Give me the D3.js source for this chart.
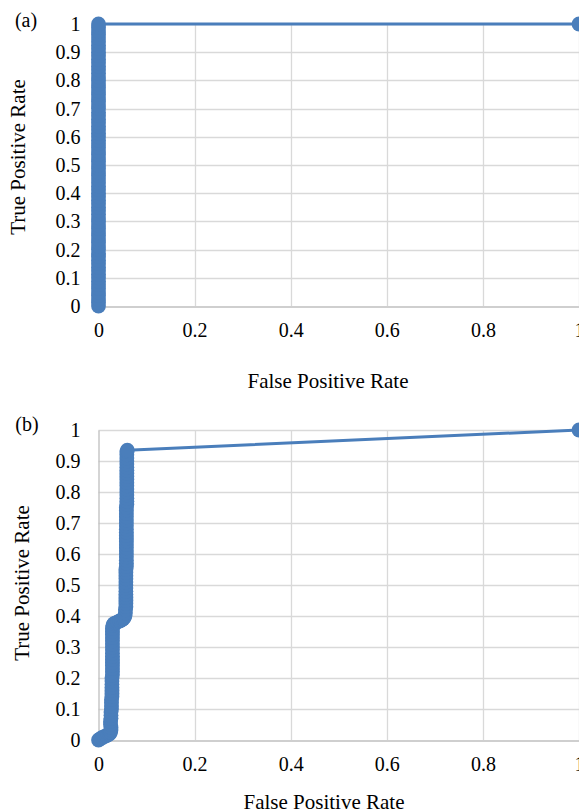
<!DOCTYPE html>
<html>
<head>
<meta charset="utf-8">
<script src="https://cdn.jsdelivr.net/npm/d3@7"></script>
<style>
  html, body { margin: 0; padding: 0; background: #fff; }
  svg { display: block; }
  text { font-family: "Liberation Serif", "Times New Roman", serif; fill: #000; }
</style>
</head>
<body>
<svg id="chart" width="579" height="811"></svg>
<script>
// ---- Data ----
const xTicks = [0, 0.2, 0.4, 0.6, 0.8, 1];
const yTicks = [0, 0.1, 0.2, 0.3, 0.4, 0.5, 0.6, 0.7, 0.8, 0.9, 1];
const xTickLabels = ["0", "0.2", "0.4", "0.6", "0.8", "1"];
const yTickLabels = ["0", "0.1", "0.2", "0.3", "0.4", "0.5", "0.6", "0.7", "0.8", "0.9", "1"];

const panelLabels = ["(a)", "(b)"];
const xTitle = "False Positive Rate";
const yTitle = "True Positive Rate";

// Panel (a) ROC points
const rocA_tpr = [0,0.0125,0.025,0.0375,0.05,0.0625,0.075,0.0875,0.1,0.1125,0.125,0.1375,0.15,0.1625,0.175,0.1875,
  0.2,0.2125,0.225,0.2375,0.25,0.2625,0.275,0.2875,0.3,0.3125,0.325,0.3375,0.35,0.3625,0.375,0.3875,
  0.4,0.4125,0.425,0.4375,0.45,0.4625,0.475,0.4875,0.5,0.5125,0.525,0.5375,0.55,0.5625,0.575,0.5875,
  0.6,0.6125,0.625,0.6375,0.65,0.6625,0.675,0.6875,0.7,0.7125,0.725,0.7375,0.75,0.7625,0.775,0.7875,
  0.8,0.8125,0.825,0.8375,0.85,0.8625,0.875,0.8875,0.9,0.9125,0.925,0.9375,0.95,0.9625,0.975,0.9875,
  1,1];
const rocA_fpr = [0,0,0,0,0,0,0,0,0,0,0,0,0,0,0,0,
  0,0,0,0,0,0,0,0,0,0,0,0,0,0,0,0,
  0,0,0,0,0,0,0,0,0,0,0,0,0,0,0,0,
  0,0,0,0,0,0,0,0,0,0,0,0,0,0,0,0,
  0,0,0,0,0,0,0,0,0,0,0,0,0,0,0,0,
  0,1];

// Panel (b) ROC points
const rocB_tpr = [0,0.004,0.008,0.011,0.014,0.017,0.02,0.025,0.032,0.04,
  0.05,0.06,0.07,0.08,0.09,0.1,0.11,0.12,0.13,0.14,0.15,0.16,0.17,0.18,0.19,0.2,0.21,
  0.22,0.23,0.24,0.25,0.26,0.27,0.28,0.29,0.3,0.31,0.32,0.33,0.34,0.35,0.36,0.37,
  0.375,0.378,0.381,0.384,0.387,0.39,0.394,0.4,0.41,0.42,
  0.43,0.44,0.45,0.46,0.47,0.48,0.49,0.5,0.51,0.52,0.53,0.54,0.55,
  0.56,0.57,0.58,0.59,0.6,0.61,0.62,0.63,0.64,0.65,0.66,0.67,0.68,0.69,0.7,0.71,0.72,0.73,0.74,0.75,
  0.76,0.77,0.78,0.79,0.8,0.81,0.82,0.83,0.84,0.85,0.86,0.87,0.88,0.89,0.9,0.91,0.92,0.93,
  0.935,1];
const rocB_fpr = [0,0.004,0.008,0.012,0.016,0.02,0.023,0.025,0.026,0.026,
  0.025,0.025,0.026,0.026,0.026,0.027,0.027,0.027,0.027,0.028,0.028,0.028,0.028,0.028,0.028,0.028,0.029,
  0.029,0.029,0.029,0.029,0.029,0.029,0.029,0.029,0.029,0.029,0.029,0.029,0.029,0.029,0.029,0.03,
  0.032,0.036,0.04,0.044,0.048,0.051,0.053,0.055,0.056,0.056,
  0.057,0.057,0.057,0.057,0.057,0.057,0.057,0.057,0.057,0.057,0.057,0.057,0.057,
  0.058,0.058,0.058,0.058,0.058,0.058,0.058,0.058,0.058,0.058,0.058,0.058,0.058,0.058,0.058,0.058,0.058,0.058,0.058,0.058,
  0.059,0.059,0.059,0.059,0.059,0.059,0.059,0.059,0.059,0.059,0.059,0.059,0.059,0.059,0.059,0.059,0.059,0.059,
  0.06,1];

// ---- Drawing ----
const svg = d3.select("#chart");
const blue = "#4a7ebb";
const tickFont = 20;
const titleFont = 21;

const panels = [
  { fpr: rocA_fpr, tpr: rocA_tpr, top: 24, bottom: 306, label: panelLabels[0],
    labelPos: [26, 21], xTitlePos: [328, 381], yTitlePos: [18, 157] },
  { fpr: rocB_fpr, tpr: rocB_tpr, top: 430, bottom: 740, label: panelLabels[1],
    labelPos: [27, 425], xTitlePos: [324, 802], yTitlePos: [22, 583] }
];

panels.forEach(p => {
  const x = d3.scaleLinear().domain([0, 1]).range([98.5, 579]);
  const y = d3.scaleLinear().domain([0, 1]).range([p.bottom, p.top]);
  const g = svg.append("g");

  // horizontal gridlines
  g.append("g").selectAll("line").data(yTicks.filter(d => d > 0)).join("line")
    .attr("x1", x(0)).attr("x2", x(1))
    .attr("y1", d => Math.round(y(d)) + 0.5).attr("y2", d => Math.round(y(d)) + 0.5)
    .attr("stroke", "#d9d9d9").attr("stroke-width", 1.3);
  // vertical gridlines
  g.append("g").selectAll("line").data(xTicks.filter(d => d > 0)).join("line")
    .attr("x1", d => Math.round(x(d)) + 0.5).attr("x2", d => Math.round(x(d)) + 0.5)
    .attr("y1", y(1)).attr("y2", y(0))
    .attr("stroke", "#d9d9d9").attr("stroke-width", 1.3);

  // axes
  const xAxis = d3.axisBottom(x).tickValues(xTicks).tickSize(0)
    .tickFormat((d, i) => xTickLabels[i]);
  const xg = g.append("g").attr("transform", `translate(0,${Math.round(y(0)) + 0.5})`).call(xAxis);
  xg.select(".domain").attr("stroke", "#bfbfbf").attr("stroke-width", 1.3);
  xg.selectAll("text").attr("font-size", tickFont).attr("dy", "1.35em")
    .style("font-family", "'Liberation Serif', serif");

  const yAxis = d3.axisLeft(y).tickValues(yTicks).tickSize(0)
    .tickFormat((d, i) => yTickLabels[i]);
  const yg = g.append("g").attr("transform", `translate(${x(0)},0)`).call(yAxis);
  yg.select(".domain").attr("stroke", "#bfbfbf").attr("stroke-width", 1.3);
  yg.selectAll("text").attr("font-size", tickFont).attr("x", -18).attr("dy", "0.32em")
    .style("font-family", "'Liberation Serif', serif");

  // ROC line + markers
  const pts = p.fpr.map((v, i) => [v, p.tpr[i]]);
  const line = d3.line().x(d => x(d[0])).y(d => y(d[1]));
  g.append("path").datum(pts).attr("d", line)
    .attr("fill", "none").attr("stroke", blue).attr("stroke-width", 3)
    .attr("stroke-linejoin", "round");
  g.append("g").selectAll("circle").data(pts).join("circle")
    .attr("cx", d => x(d[0])).attr("cy", d => y(d[1])).attr("r", 7.4)
    .attr("fill", blue);

  // labels
  g.append("text").attr("x", p.labelPos[0]).attr("y", p.labelPos[1]).attr("dy", "0.32em")
    .attr("text-anchor", "middle").attr("font-size", tickFont).text(p.label);
  g.append("text").attr("x", p.xTitlePos[0]).attr("y", p.xTitlePos[1]).attr("dy", "0.32em")
    .attr("text-anchor", "middle").attr("font-size", titleFont).text(xTitle);
  g.append("text").attr("transform", `translate(${p.yTitlePos[0]},${p.yTitlePos[1]}) rotate(-90)`)
    .attr("dy", "0.32em").attr("text-anchor", "middle").attr("font-size", titleFont).text(yTitle);
});
</script>
</body>
</html>
